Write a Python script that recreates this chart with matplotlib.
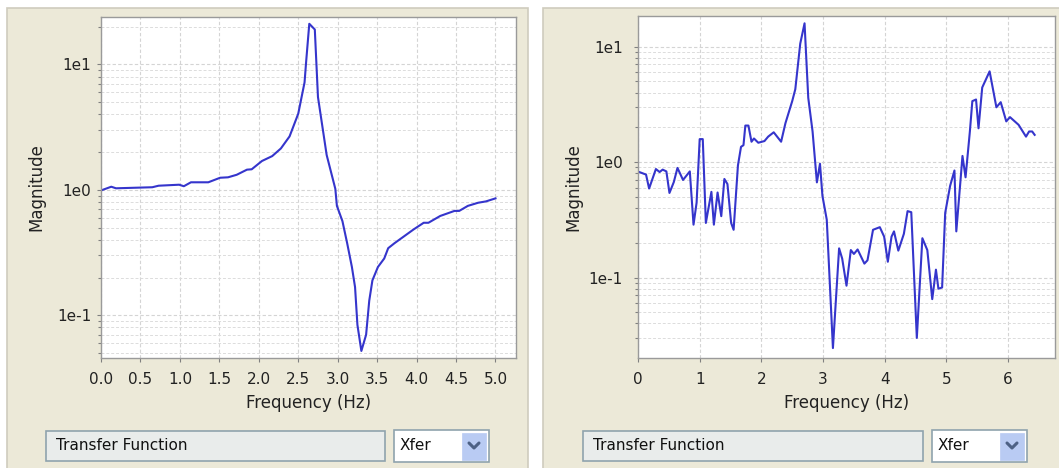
import numpy as np
import matplotlib.pyplot as plt
from matplotlib.patches import Rectangle
from matplotlib.lines import Line2D
from matplotlib.ticker import FuncFormatter, LogLocator

# left panel: transfer function 0-5 Hz
left_freq = [0.0, 0.13, 0.19, 0.65, 0.73, 0.99, 1.05, 1.14, 1.36, 1.51, 1.61, 1.72,
             1.85, 1.91, 2.04, 2.17, 2.28, 2.39, 2.50, 2.58, 2.60, 2.64, 2.71, 2.75,
             2.86, 2.97, 2.99, 3.06, 3.12, 3.18, 3.22, 3.25, 3.30, 3.36, 3.40, 3.44,
             3.51, 3.59, 3.64, 3.72, 3.81, 3.96, 4.09, 4.15, 4.30, 4.48, 4.54, 4.65,
             4.78, 4.88, 5.00]
left_mag = [0.99, 1.06, 1.03, 1.05, 1.08, 1.10, 1.07, 1.15, 1.15, 1.25, 1.26, 1.32,
            1.45, 1.46, 1.70, 1.86, 2.14, 2.67, 4.05, 7.2, 10.5, 21.1, 19.0, 5.5,
            1.90, 1.02, 0.746, 0.564, 0.376, 0.243, 0.168, 0.084, 0.052, 0.070, 0.131, 0.19,
            0.243, 0.284, 0.343, 0.376, 0.413, 0.483, 0.547, 0.547, 0.62, 0.68, 0.68, 0.746,
            0.79, 0.81, 0.856]

# right panel: transfer function 0-6.4 Hz
right_freq = [0.0, 0.10, 0.13, 0.18, 0.29, 0.35, 0.40, 0.46, 0.51, 0.58, 0.64, 0.73,
              0.84, 0.90, 0.95, 1.00, 1.05, 1.10, 1.19, 1.23, 1.29, 1.35, 1.40, 1.45,
              1.51, 1.55, 1.62, 1.67, 1.71, 1.74, 1.79, 1.84, 1.88, 1.95, 2.05, 2.11,
              2.20, 2.32, 2.39, 2.50, 2.55, 2.63, 2.70, 2.76, 2.83, 2.90, 2.95, 2.99,
              3.06, 3.16, 3.26, 3.31, 3.38, 3.45, 3.50, 3.56, 3.67, 3.72, 3.81, 3.92,
              3.99, 4.05, 4.11, 4.15, 4.22, 4.31, 4.37, 4.43, 4.52, 4.61, 4.69, 4.77,
              4.83, 4.87, 4.93, 4.98, 5.06, 5.13, 5.16, 5.23, 5.26, 5.31, 5.38, 5.42,
              5.48, 5.52, 5.58, 5.70, 5.81, 5.88, 5.97, 6.03, 6.17, 6.29, 6.34, 6.39,
              6.43]
right_mag = [0.828, 0.79, 0.78, 0.59, 0.87, 0.82, 0.86, 0.83, 0.54, 0.67, 0.89, 0.70,
             0.83, 0.287, 0.445, 1.58, 1.58, 0.297, 0.552, 0.287, 0.545, 0.34, 0.714, 0.645,
             0.297, 0.259, 0.935, 1.355, 1.40, 2.07, 2.07, 1.50, 1.60, 1.47, 1.52, 1.66,
             1.81, 1.50, 2.17, 3.37, 4.27, 10.6, 15.9, 3.6, 1.84, 0.667, 0.967, 0.509,
             0.317, 0.0245, 0.179, 0.146, 0.085, 0.173, 0.16, 0.175, 0.132, 0.141, 0.259, 0.273,
             0.226, 0.137, 0.226, 0.251, 0.171, 0.239, 0.376, 0.368, 0.030, 0.219, 0.173, 0.065,
             0.117, 0.080, 0.082, 0.363, 0.623, 0.845, 0.251, 0.714, 1.13, 0.738, 1.84, 3.37,
             3.48, 1.96, 4.42, 6.1, 2.98, 3.3, 2.25, 2.45, 2.10, 1.66, 1.84, 1.84,
             1.72]

W, H = 1059, 468
PANEL = '#ECE9D8'
LINE = '#3535CC'


def box(x, y, w, h):
    # pixel box measured from the top-left -> figure fraction
    return [x / W, 1 - (y + h) / H, w / W, h / H]


def rect(fig, x, y, w, h, **kw):
    b = box(x, y, w, h)
    fig.add_artist(Rectangle((b[0], b[1]), b[2], b[3], transform=fig.transFigure, **kw))


def controls(fig, x0, combo_x):
    # text field
    rect(fig, x0, 431, combo_x - x0 - 9, 30, facecolor='#E9ECEB', edgecolor='#8FA3AD',
         linewidth=1.2, zorder=2)
    fig.text((x0 + 10) / W, 1 - 446 / H, 'Transfer Function', fontsize=11,
             ha='left', va='center', color='#111111')
    # combo box
    rect(fig, combo_x, 430, 95, 32, facecolor='white', edgecolor='#8FA3AD',
         linewidth=1.2, zorder=2)
    fig.text((combo_x + 6) / W, 1 - 446 / H, 'Xfer', fontsize=11,
             ha='left', va='center', color='#111111')
    rect(fig, combo_x + 68, 433, 24, 27, facecolor='#B9CBF3', edgecolor='#B9CBF3',
         linewidth=0.5, zorder=3)
    cx = combo_x + 80
    fig.add_artist(Line2D([(cx - 5) / W, cx / W, (cx + 5) / W],
                          [1 - 443 / H, 1 - 448 / H, 1 - 443 / H],
                          transform=fig.transFigure, color='#4D6185', linewidth=2.2,
                          zorder=4, solid_capstyle='round'))


def setup(ax, xlim, ylim, xticks, xfmt, ypad):
    ax.set_yscale('log')
    ax.set_xlim(*xlim)
    ax.set_ylim(*ylim)
    ax.set_facecolor('white')
    ax.set_xticks(xticks)
    ax.xaxis.set_major_formatter(FuncFormatter(lambda v, p: xfmt % v))
    ax.yaxis.set_major_locator(LogLocator(base=10, numticks=10))
    ax.yaxis.set_minor_locator(LogLocator(base=10, subs=np.arange(2, 10), numticks=20))
    ax.yaxis.set_major_formatter(FuncFormatter(lambda v, p: '1e%d' % round(np.log10(v))))
    ax.yaxis.set_minor_formatter(FuncFormatter(lambda v, p: ''))
    ax.grid(True, which='major', color='#D4D4D4', linestyle=(0, (3, 2)), linewidth=0.8)
    ax.grid(True, which='minor', axis='y', color='#DCDCDC', linestyle=(0, (3, 2)), linewidth=0.7)
    ax.set_axisbelow(True)
    for s in ax.spines.values():
        s.set_color('#9A9A9A')
        s.set_linewidth(1.0)
    ax.tick_params(axis='both', which='major', length=3, width=0.8, color='#808080',
                   labelsize=11, labelcolor='#222222')
    ax.tick_params(axis='x', pad=7)
    ax.tick_params(axis='y', which='major', pad=ypad)
    ax.tick_params(axis='y', which='minor', length=2.5, width=0.8, color='#808080')
    ax.set_xlabel('Frequency (Hz)', fontsize=12, color='#222222')
    ax.set_ylabel('Magnitude', fontsize=12, color='#222222')
    ax.xaxis.set_label_coords(0.5, -0.105)
    ax.yaxis.set_label_coords(-0.133, 0.5)


fig = plt.figure(figsize=(W / 100, H / 100), dpi=100)
fig.patch.set_facecolor('white')

# beige panels
rect(fig, 7, 8, 521, 470, facecolor=PANEL, edgecolor='#CFCCBE', linewidth=1.2, zorder=-5)
rect(fig, 543, 8, 530, 470, facecolor=PANEL, edgecolor='#CFCCBE', linewidth=1.2, zorder=-5)

ax1 = fig.add_axes(box(101, 17, 415, 341))
ax1.plot(left_freq, left_mag, color=LINE, linewidth=1.5)
setup(ax1, (0, 5.26), (0.0457, 23.9), np.arange(0, 5.01, 0.5), '%.1f', 4)

ax2 = fig.add_axes(box(638, 16, 417, 342))
ax2.plot(right_freq, right_mag, color=LINE, linewidth=1.5)
setup(ax2, (0, 6.76), (0.0201, 18.4), np.arange(0, 7, 1), '%d', 8)

controls(fig, 46, 394)
controls(fig, 583, 932)

fig.savefig('out.png', dpi=100, facecolor=fig.get_facecolor())
